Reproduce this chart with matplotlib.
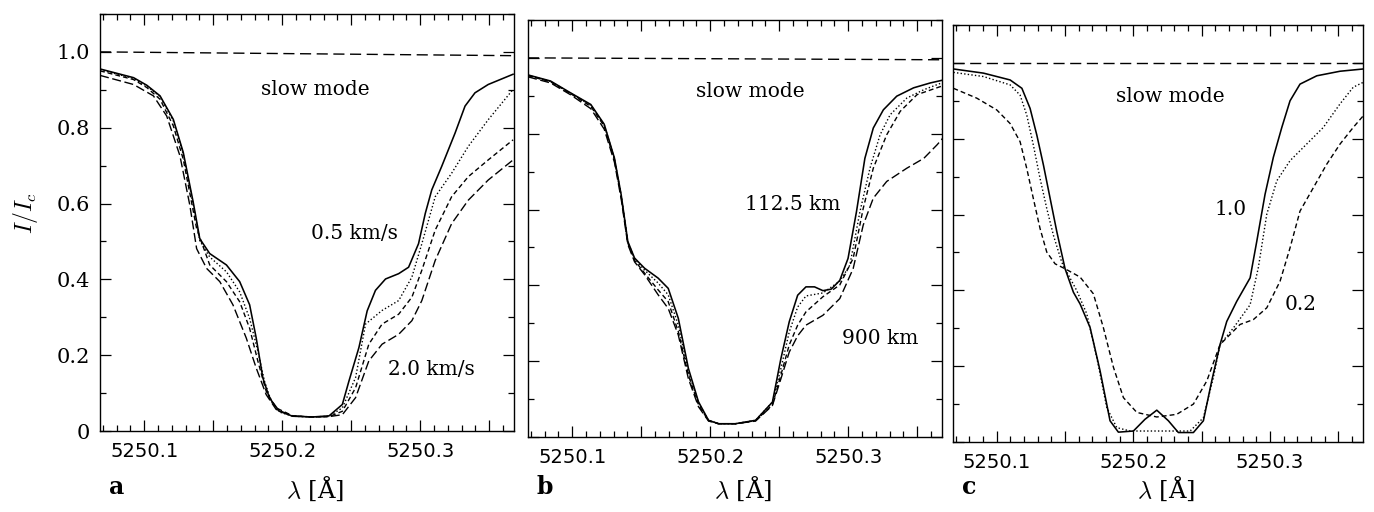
import matplotlib
matplotlib.use("Agg")
import matplotlib.pyplot as plt
from matplotlib.ticker import MultipleLocator, FuncFormatter
from matplotlib.transforms import blended_transform_factory

plt.rcParams["font.family"] = ["DejaVu Serif"]
plt.rcParams["mathtext.fontset"] = "cm"

# wavelength window and continuum level
wl_lim = (5250.068, 5250.368)
cont_x = [5250.068, 5250.368]
cont_a = [1.0, 0.99]
cont_b = [1.0, 0.995]
cont_c = [1.0, 1.0]

# ---- panel a: velocity 0.5 ... 2.0 km/s
a_solid_x = [5250.068, 5250.0923, 5250.1019, 5250.1115, 5250.1211, 5250.1283, 5250.1355, 5250.1403,
             5250.1475, 5250.1596, 5250.1692, 5250.1764, 5250.1812, 5250.1860, 5250.1908, 5250.1980,
             5250.2076, 5250.2220, 5250.2340, 5250.2436, 5250.2484, 5250.2556, 5250.2616, 5250.2676,
             5250.2749, 5250.2844, 5250.2916, 5250.2988, 5250.3037, 5250.3084, 5250.3156, 5250.3253,
             5250.3325, 5250.3397, 5250.3493, 5250.3673]
a_solid_y = [0.955, 0.932, 0.912, 0.884, 0.822, 0.735, 0.604, 0.507,
             0.468, 0.438, 0.394, 0.333, 0.245, 0.140, 0.087, 0.052,
             0.039, 0.037, 0.040, 0.070, 0.132, 0.220, 0.317, 0.371,
             0.401, 0.415, 0.432, 0.494, 0.574, 0.636, 0.698, 0.786,
             0.857, 0.892, 0.914, 0.941]

a_dot_x = [5250.068, 5250.0923, 5250.1019, 5250.1115, 5250.1211, 5250.1283, 5250.1355, 5250.1403,
           5250.1475, 5250.1596, 5250.1692, 5250.1764, 5250.1824, 5250.1872, 5250.1920, 5250.1980,
           5250.2076, 5250.2220, 5250.2340, 5250.2436, 5250.2532, 5250.2604, 5250.2724, 5250.2844,
           5250.2940, 5250.3012, 5250.3109, 5250.3228, 5250.3349, 5250.3493, 5250.3673]
a_dot_y = [0.953, 0.930, 0.910, 0.882, 0.818, 0.730, 0.598, 0.502,
           0.459, 0.420, 0.367, 0.297, 0.210, 0.131, 0.079, 0.050,
           0.039, 0.037, 0.039, 0.061, 0.141, 0.282, 0.318, 0.344,
           0.406, 0.494, 0.618, 0.680, 0.751, 0.821, 0.901]

a_dash_x = [5250.068, 5250.0923, 5250.1019, 5250.1115, 5250.1211, 5250.1283, 5250.1380, 5250.1475,
            5250.1596, 5250.1692, 5250.1764, 5250.1824, 5250.1884, 5250.1956, 5250.2076, 5250.2220,
            5250.2340, 5250.2436, 5250.2532, 5250.2628, 5250.2724, 5250.2844, 5250.2940, 5250.3012,
            5250.3109, 5250.3228, 5250.3349, 5250.3493, 5250.3673]
a_dash_y = [0.950, 0.927, 0.906, 0.875, 0.805, 0.717, 0.534, 0.438,
            0.394, 0.341, 0.271, 0.184, 0.105, 0.061, 0.040, 0.037,
            0.038, 0.052, 0.114, 0.229, 0.282, 0.308, 0.353, 0.424,
            0.530, 0.618, 0.671, 0.715, 0.768]

a_long_x = [5250.068, 5250.0923, 5250.1067, 5250.1163, 5250.1259, 5250.1331, 5250.1380, 5250.1452,
            5250.1548, 5250.1643, 5250.1740, 5250.1812, 5250.1884, 5250.1956, 5250.2076, 5250.2220,
            5250.2340, 5250.2436, 5250.2532, 5250.2628, 5250.2724, 5250.2844, 5250.2940, 5250.3012,
            5250.3109, 5250.3228, 5250.3349, 5250.3493, 5250.3673]
a_long_y = [0.938, 0.914, 0.884, 0.831, 0.726, 0.595, 0.481, 0.429,
            0.394, 0.333, 0.245, 0.166, 0.096, 0.057, 0.040, 0.037,
            0.038, 0.043, 0.088, 0.185, 0.229, 0.255, 0.291, 0.344,
            0.450, 0.547, 0.609, 0.662, 0.715]

# ---- panel b: 112.5 ... 900 km
b_solid_x = [5250.068, 5250.0843, 5250.0987, 5250.1135, 5250.1232, 5250.1306, 5250.1355, 5250.1403,
             5250.1452, 5250.1525, 5250.1623, 5250.1696, 5250.1769, 5250.1842, 5250.1915, 5250.1988,
             5250.2061, 5250.2183, 5250.2329, 5250.2451, 5250.2512, 5250.2573, 5250.2634, 5250.2694,
             5250.2756, 5250.2817, 5250.2877, 5250.2939, 5250.2999, 5250.3060, 5250.3121, 5250.3182,
             5250.3255, 5250.3352, 5250.3474, 5250.3596, 5250.3706]
b_solid_y = [0.955, 0.939, 0.908, 0.877, 0.825, 0.736, 0.639, 0.516,
             0.472, 0.445, 0.419, 0.392, 0.313, 0.181, 0.093, 0.044,
             0.035, 0.035, 0.044, 0.092, 0.206, 0.304, 0.374, 0.396,
             0.396, 0.386, 0.390, 0.413, 0.471, 0.594, 0.735, 0.815,
             0.863, 0.899, 0.921, 0.934, 0.943]

b_dot_x = [5250.068, 5250.0843, 5250.0987, 5250.1135, 5250.1232, 5250.1306, 5250.1355, 5250.1403,
           5250.1452, 5250.1525, 5250.1623, 5250.1696, 5250.1769, 5250.1842, 5250.1915, 5250.1988,
           5250.2061, 5250.2183, 5250.2329, 5250.2451, 5250.2512, 5250.2573, 5250.2634, 5250.2694,
           5250.2817, 5250.2939, 5250.3012, 5250.3085, 5250.3158, 5250.3231, 5250.3304, 5250.3425,
           5250.3548, 5250.3706]
b_dot_y = [0.954, 0.938, 0.907, 0.875, 0.823, 0.734, 0.637, 0.514,
           0.470, 0.440, 0.406, 0.375, 0.295, 0.172, 0.090, 0.044,
           0.035, 0.035, 0.044, 0.092, 0.180, 0.277, 0.343, 0.372,
           0.380, 0.411, 0.453, 0.594, 0.709, 0.797, 0.850, 0.894,
           0.916, 0.938]

b_dash_x = [5250.068, 5250.0843, 5250.0987, 5250.1135, 5250.1232, 5250.1306, 5250.1355, 5250.1403,
            5250.1452, 5250.1525, 5250.1623, 5250.1696, 5250.1769, 5250.1842, 5250.1915, 5250.1988,
            5250.2061, 5250.2183, 5250.2329, 5250.2451, 5250.2512, 5250.2573, 5250.2634, 5250.2694,
            5250.2817, 5250.2939, 5250.3036, 5250.3109, 5250.3182, 5250.3279, 5250.3377, 5250.3499,
            5250.3706]
b_dash_y = [0.953, 0.937, 0.906, 0.872, 0.820, 0.731, 0.634, 0.512,
            0.466, 0.432, 0.388, 0.357, 0.278, 0.163, 0.085, 0.043,
            0.035, 0.035, 0.043, 0.085, 0.163, 0.243, 0.295, 0.330,
            0.370, 0.401, 0.471, 0.603, 0.709, 0.797, 0.859, 0.903,
            0.929]

b_long_x = [5250.068, 5250.0843, 5250.0987, 5250.1135, 5250.1232, 5250.1306, 5250.1355, 5250.1403,
            5250.1452, 5250.1525, 5250.1623, 5250.1696, 5250.1769, 5250.1842, 5250.1915, 5250.1988,
            5250.2061, 5250.2183, 5250.2329, 5250.2451, 5250.2512, 5250.2573, 5250.2634, 5250.2694,
            5250.2817, 5250.2939, 5250.3036, 5250.3109, 5250.3182, 5250.3279, 5250.3425, 5250.3548,
            5250.3645, 5250.3706]
b_long_y = [0.950, 0.934, 0.903, 0.866, 0.812, 0.725, 0.628, 0.508,
            0.462, 0.428, 0.375, 0.339, 0.269, 0.154, 0.080, 0.042,
            0.035, 0.035, 0.042, 0.083, 0.153, 0.224, 0.267, 0.295,
            0.321, 0.365, 0.444, 0.559, 0.630, 0.674, 0.709, 0.735,
            0.771, 0.797]

# ---- panel c: 1.0 ... 0.2
c_solid_x = [5250.0683, 5250.0903, 5250.1098, 5250.1184, 5250.1244, 5250.1293, 5250.1342, 5250.1391,
             5250.1440, 5250.1500, 5250.1561, 5250.1610, 5250.1683, 5250.1756, 5250.1829, 5250.1890,
             5250.2000, 5250.2085, 5250.2171, 5250.2256, 5250.2329, 5250.2439, 5250.2512, 5250.2573,
             5250.2634, 5250.2683, 5250.2756, 5250.2854, 5250.2903, 5250.2963, 5250.3024, 5250.3086,
             5250.3146, 5250.3219, 5250.3342, 5250.3512, 5250.3683]
c_solid_y = [0.984, 0.973, 0.955, 0.933, 0.880, 0.810, 0.730, 0.642,
             0.554, 0.457, 0.395, 0.364, 0.302, 0.188, 0.056, 0.026,
             0.029, 0.060, 0.084, 0.056, 0.025, 0.025, 0.056, 0.161,
             0.257, 0.318, 0.371, 0.433, 0.530, 0.653, 0.751, 0.830,
             0.900, 0.944, 0.966, 0.978, 0.984]

c_dot_x = [5250.0683, 5250.0903, 5250.1098, 5250.1171, 5250.1220, 5250.1268, 5250.1317, 5250.1366,
           5250.1415, 5250.1476, 5250.1500, 5250.1586, 5250.1659, 5250.1732, 5250.1805, 5250.1878,
           5250.1976, 5250.2220, 5250.2415, 5250.2512, 5250.2585, 5250.2634, 5250.2732, 5250.2854,
           5250.2914, 5250.2976, 5250.3049, 5250.3146, 5250.3268, 5250.3390, 5250.3512, 5250.3609,
           5250.3683]
c_dot_y = [0.975, 0.964, 0.942, 0.915, 0.862, 0.783, 0.695, 0.616,
           0.545, 0.474, 0.457, 0.399, 0.338, 0.223, 0.091, 0.038,
           0.029, 0.029, 0.029, 0.064, 0.170, 0.257, 0.301, 0.362,
           0.460, 0.601, 0.689, 0.742, 0.786, 0.830, 0.892, 0.936,
           0.949]

c_dash_x = [5250.0683, 5250.0854, 5250.1000, 5250.1098, 5250.1171, 5250.1220, 5250.1268, 5250.1317,
            5250.1366, 5250.1427, 5250.1500, 5250.1610, 5250.1707, 5250.1780, 5250.1854, 5250.1927,
            5250.2025, 5250.2171, 5250.2317, 5250.2439, 5250.2537, 5250.2634, 5250.2780, 5250.2878,
            5250.2976, 5250.3073, 5250.3146, 5250.3219, 5250.3317, 5250.3415, 5250.3512, 5250.3609,
            5250.3683]
c_dash_y = [0.933, 0.907, 0.876, 0.840, 0.792, 0.721, 0.642, 0.563,
            0.501, 0.470, 0.457, 0.435, 0.391, 0.302, 0.197, 0.117,
            0.078, 0.066, 0.073, 0.100, 0.161, 0.257, 0.310, 0.323,
            0.354, 0.424, 0.512, 0.609, 0.671, 0.733, 0.786, 0.830,
            0.861]

# annotations: (x, y, text)
a_notes = [(5250.224, 0.90, "slow mode"), (5250.252, 0.522, "0.5 km/s"), (5250.308, 0.162, "2.0 km/s")]
b_notes = [(5250.229, 0.911, "slow mode"), (5250.260, 0.614, "112.5 km"), (5250.323, 0.261, "900 km")]
c_notes = [(5250.227, 0.911, "slow mode"), (5250.271, 0.613, "1.0"), (5250.322, 0.364, "0.2")]

SOLID = "-"
DOT = (0, (1, 1.6))
DASH = (0, (3.5, 2.2))
LONG = (0, (6.5, 2.6))
CONT = (0, (8, 4))


def x_label(v, pos):
    if abs(v * 10 - round(v * 10)) < 1e-3:
        return "%.1f" % v
    return ""


def y_label(v, pos):
    if abs(v) < 1e-6:
        return "0"
    return "%.1f" % v


def setup_axes(ax, show_y):
    ax.set_xlim(*wl_lim)
    ax.set_ylim(0, 1.1)
    ax.xaxis.set_major_locator(MultipleLocator(0.05))
    ax.xaxis.set_minor_locator(MultipleLocator(0.01))
    ax.yaxis.set_major_locator(MultipleLocator(0.2))
    ax.yaxis.set_minor_locator(MultipleLocator(0.1))
    ax.xaxis.set_major_formatter(FuncFormatter(x_label))
    ax.yaxis.set_major_formatter(FuncFormatter(y_label))
    ax.tick_params(which="both", direction="in", top=True, right=True, width=0.9)
    ax.tick_params(which="major", length=8)
    ax.tick_params(which="minor", length=4)
    ax.tick_params(axis="x", pad=8)
    ax.tick_params(axis="y", pad=7, labelleft=show_y, labelsize=15)
    for lab in ax.get_xticklabels():
        lab.set_family("DejaVu Sans")
        lab.set_fontsize(14)
    for sp in ax.spines.values():
        sp.set_linewidth(1.0)


def draw_panel(ax, curves, cont_y, notes, letter, show_y):
    setup_axes(ax, show_y)
    ax.plot(cont_x, cont_y, color="black", lw=1.0, linestyle=CONT)
    for xs, ys, ls in curves:
        lw = 1.15 if ls == SOLID else 1.0
        ax.plot(xs, ys, color="black", lw=lw, linestyle=ls)
    for x, y, t in notes:
        ax.text(x, y, t, ha="center", va="center", fontsize=14.5)
    # panel letter and wavelength label sit below the axes, y in figure units
    below = blended_transform_factory(ax.transAxes, fig.transFigure)
    ax.text(0.04, 0.048, letter, transform=below, ha="center", va="center",
            fontsize=17, fontweight="bold")
    ax.text(0.52, 0.046, r"$\lambda$ [Å]", transform=below, ha="center", va="center",
            fontsize=17.5)


fig = plt.figure(figsize=(13.74, 5.12), dpi=100)
ax_a = fig.add_axes([0.0728, 0.1582, 0.3013, 0.8145])
ax_b = fig.add_axes([0.3843, 0.1465, 0.3013, 0.8145])
ax_c = fig.add_axes([0.6936, 0.1367, 0.2984, 0.8145])

draw_panel(ax_a, [(a_solid_x, a_solid_y, SOLID), (a_dot_x, a_dot_y, DOT),
                  (a_dash_x, a_dash_y, DASH), (a_long_x, a_long_y, LONG)],
           cont_a, a_notes, "a", True)
draw_panel(ax_b, [(b_solid_x, b_solid_y, SOLID), (b_dot_x, b_dot_y, DOT),
                  (b_dash_x, b_dash_y, DASH), (b_long_x, b_long_y, LONG)],
           cont_b, b_notes, "b", False)
draw_panel(ax_c, [(c_solid_x, c_solid_y, SOLID), (c_dot_x, c_dot_y, DOT),
                  (c_dash_x, c_dash_y, DASH)],
           cont_c, c_notes, "c", False)

ax_a.text(-0.181, 0.523, r"$I/I_c$", transform=ax_a.transAxes, rotation=90,
          ha="center", va="center", fontsize=17)

fig.savefig("out.png", dpi=100)
